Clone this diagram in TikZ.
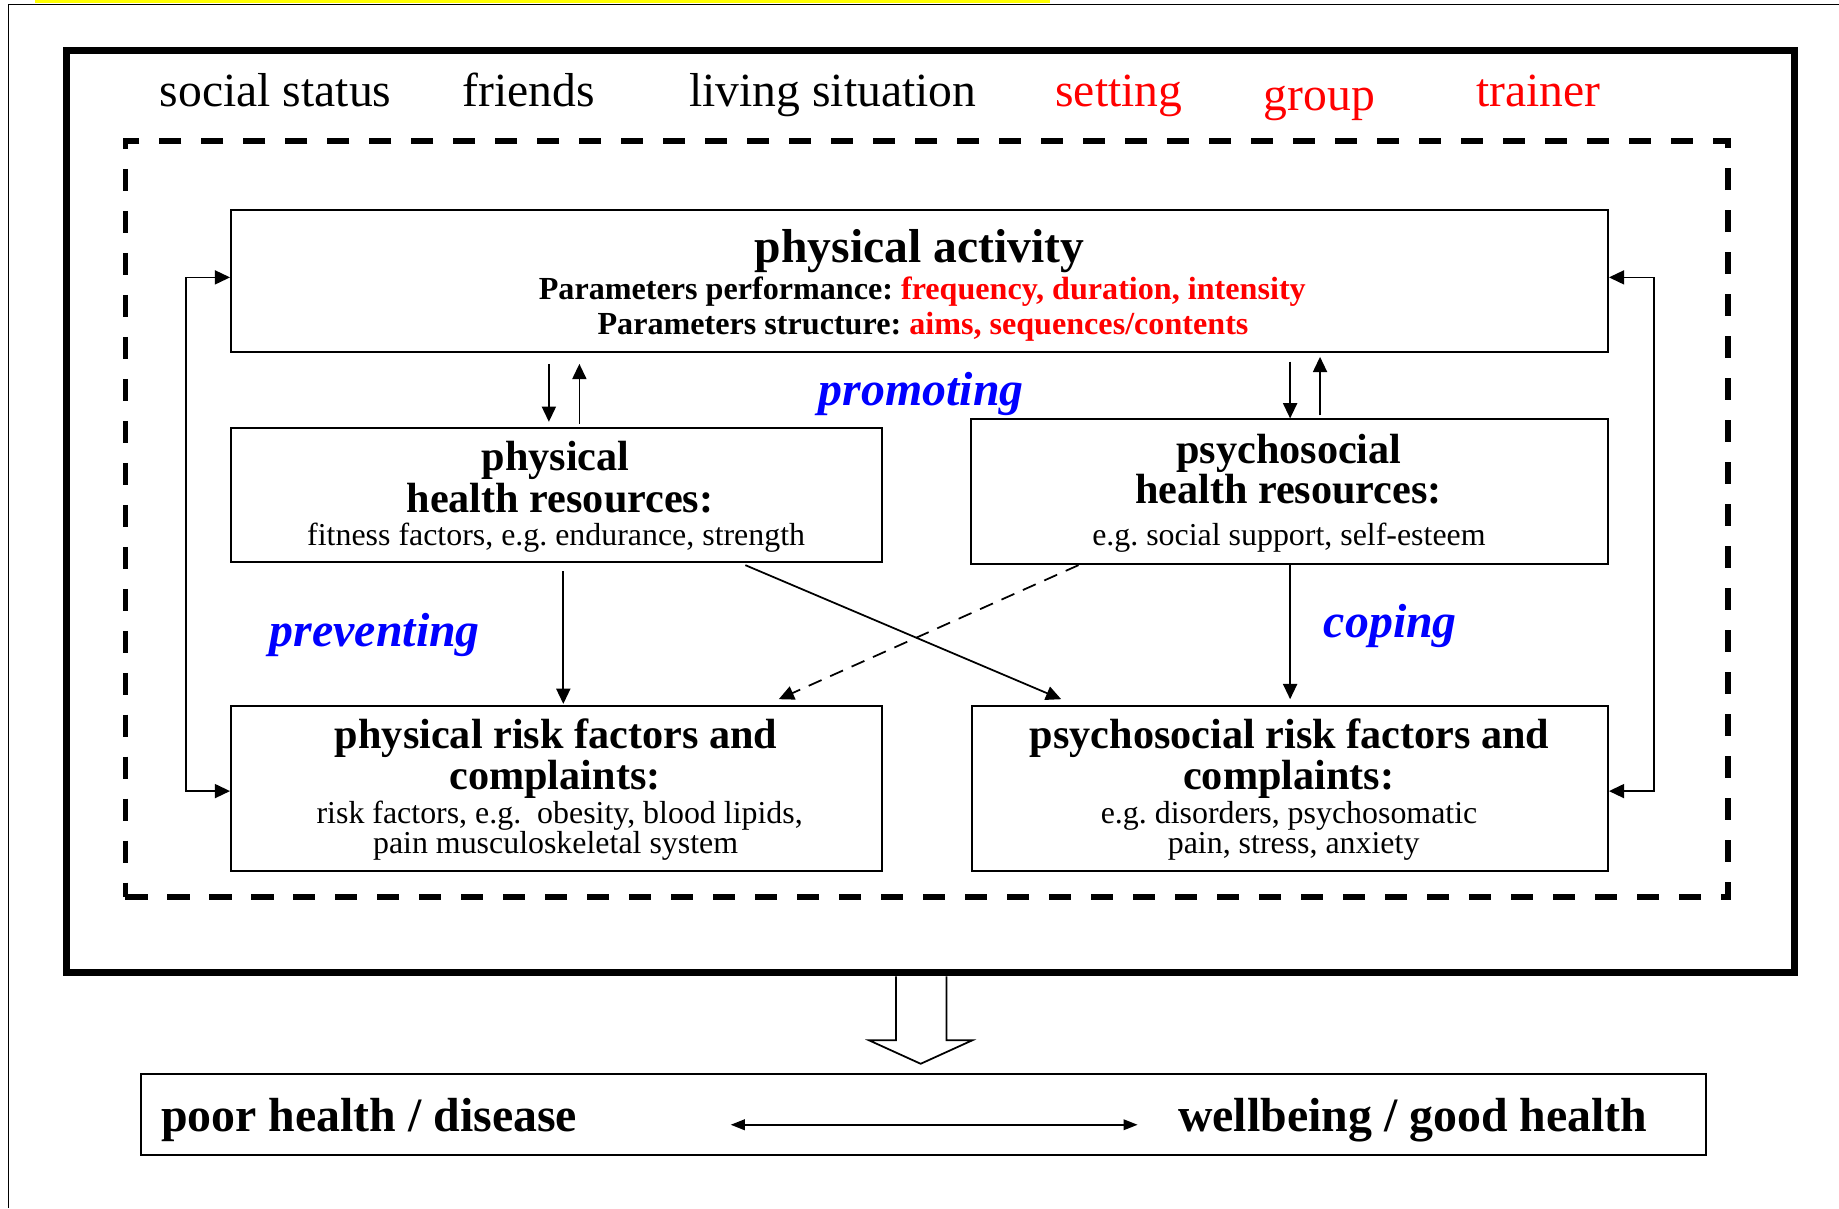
\documentclass[tikz,border=0pt]{standalone}
\usepackage{fontspec}
\setmainfont{Liberation Serif}
\usetikzlibrary{arrows.meta,calc}
\definecolor{myred}{RGB}{255,0,0}
\definecolor{myblue}{RGB}{0,0,255}
\definecolor{myyellow}{RGB}{255,255,0}
\frenchspacing
\begin{document}
\begin{tikzpicture}[x=0.5pt,y=-0.5pt,
  box/.style={draw,line width=0.85pt,inner sep=0pt},
  lbl/.style={anchor=base,inner sep=0pt,font=\fontsize{20.3}{24}\selectfont},
  ttl/.style={anchor=base,inner sep=0pt,font=\fontsize{18}{21}\selectfont\bfseries},
  sml/.style={anchor=base,inner sep=0pt,font=\fontsize{13.6}{16}\selectfont},
  parline/.style={anchor=base,inner sep=0pt,font=\fontsize{13.7}{16}\selectfont\bfseries},
  verbtxt/.style={anchor=base,inner sep=0pt,text=myblue,font=\fontsize{20.4}{24}\selectfont\bfseries\itshape},
  bigtxt/.style={inner sep=0pt,font=\fontsize{20.4}{24}\selectfont\bfseries},
  arr/.style={line width=0.75pt,-{Triangle[length=6.5pt,width=6pt]}},
  darr/.style={line width=0.75pt,{Triangle[length=6.5pt,width=6pt]}-{Triangle[length=6.5pt,width=6pt]}},
]
\useasboundingbox (0,0) rectangle (1568,1030);
% page edges
\fill[myyellow] (30,0) rectangle (895,2.5);
\draw[line width=0.6pt] (7,1030) -- (7,4) -- (1568,4);

% frames
\node[draw,line width=3pt,inner sep=0pt,minimum width=736.5pt,minimum height=393.25pt] (frame) at (793.5,436.25) {};
\node[draw,line width=2.5pt,dash pattern=on 9.4pt off 8.5pt,inner sep=0pt,minimum width=683pt,minimum height=322.5pt] (dframe) at (790,442.5) {};

% context labels
\node[lbl] (social) at (235,90.4) {social status};
\node[lbl] (friends) at (451,90.4) {friends};
\node[lbl] (living) at (710,90.4) {living situation};
\node[lbl,text=myred] (setting) at (954,90.4) {setting};
\node[lbl,text=myred] (group) at (1125,94) {group};
\node[lbl,text=myred] (trainer) at (1311.5,90.4) {trainer};

% boxes
\node[box,minimum width=587pt,minimum height=60.7pt] (pa) at (784,239.7) {};
\node[box,minimum width=277.5pt,minimum height=57.2pt] (pres) at (474.5,422.2) {};
\node[box,minimum width=271.5pt,minimum height=61.7pt] (sres) at (1099.5,419.3) {};
\node[box,minimum width=277.5pt,minimum height=70.5pt] (prisk) at (474.5,672.2) {};
\node[box,minimum width=271.25pt,minimum height=70.5pt] (srisk) at (1099.75,672.2) {};
\node[box,minimum width=667.5pt,minimum height=34.5pt] (outcome) at (787.5,950.5) {};

% physical activity text
\node[anchor=base,inner sep=0pt,font=\fontsize{20.3}{24}\selectfont\bfseries] (patitle) at (784,224) {physical activity};
\node[parline] (paperf) at (786.4,255) {Parameters performance: \textcolor{myred}{frequency, duration, intensity}};
\node[parline] (pastruct) at (787,284.8) {Parameters structure: \textcolor{myred}{aims, sequences/contents}};

% physical health resources text
\node[ttl] (prest1) at (473.7,401.5) {physical};
\node[ttl] (prest2) at (477.5,436.8) {health resources:};
\node[sml] (prest3) at (474.2,465) {fitness factors, e.g. endurance, strength};

% psychosocial health resources text
\node[ttl] (srest1) at (1099,395.2) {psychosocial};
\node[ttl] (srest2) at (1098.6,429.5) {health resources:};
\node[sml] (srest3) at (1099,465) {e.g. social support, self-esteem};

% physical risk text
\node[ttl] (prt1) at (474.1,638.5) {physical risk factors and};
\node[ttl] (prt2) at (473.2,673.5) {complaints:};
\node[sml] (prt3) at (477.2,702) {risk factors, e.g.\ \ obesity, blood lipids,};
\node[sml] (prt4) at (473.7,728) {pain musculoskeletal system};

% psychosocial risk text
\node[ttl] (srt1) at (1099.6,638.5) {psychosocial risk factors and};
\node[ttl] (srt2) at (1098.8,673.5) {complaints:};
\node[sml] (srt3) at (1099.1,702) {e.g. disorders, psychosomatic};
\node[sml] (srt4) at (1103,728) {pain, stress, anxiety};

% blue verbs
\node[verbtxt] (promoting) at (785.5,345.5) {promoting};
\node[verbtxt] (preventing) at (319.6,551.5) {preventing};
\node[verbtxt] (coping) at (1185.5,543.5) {coping};

% x positions for connectors
\coordinate (cA) at (468,0);
\coordinate (cB) at (494,0);
\coordinate (cC) at (1100,0);
\coordinate (cD) at (1125.5,0);
\coordinate (cE) at (480.3,0);
\coordinate (d1) at (635.5,0);
\coordinate (d2) at (904.8,0);
\coordinate (d3) at (919.6,0);
\coordinate (d4) at (664,0);
\coordinate (lx) at (158.3,450);
\coordinate (rx) at (1410,450);

% activity <-> resources
\draw[arr] ($(pa.south -| cA)+(0,9)$) -- ($(pres.north -| cA)+(0,-4.5)$);
\draw[arr] ($(pres.north -| cB)+(0,-3)$) -- ($(pa.south -| cB)+(0,9)$);
\draw[arr] ($(pa.south -| cC)+(0,7)$) -- (sres.north -| cC);
\draw[arr] ($(sres.north -| cD)+(0,-2.6)$) -- ($(pa.south -| cD)+(0,3)$);

% resources -> risks
\draw[arr] ($(pres.south -| cE)+(0,6.6)$) -- ($(prisk.north -| cE)+(0,-0.7)$);
\draw[arr] (sres.south -| cC) -- ($(srisk.north -| cC)+(0,-4.7)$);
\draw[arr] ($(pres.south -| d1)+(0,1.6)$) -- ($(srisk.north -| d2)+(0,-4.7)$);
\draw[arr,dash pattern=on 6pt off 4pt] (sres.south -| d3) -- ($(prisk.north -| d4)+(0,-4.7)$);

% feedback loops
\draw[darr] ($(pa.west)+(0,-3.2)$) -| (lx) |- ($(prisk.west)+(0,2.3)$);
\draw[darr] ($(pa.east)+(0,-3.2)$) -| (rx) |- ($(srisk.east)+(0,2.3)$);

% hollow arrow to outcome
\draw[line width=0.75pt] (764,832.5) -- (764,887) -- (741,887) -- (785,907) -- (829,887) -- (807,887) -- (807,832.5);

% outcome texts
\node[bigtxt,anchor=base west] (poor) at (137,965) {poor health / disease};
\node[bigtxt,anchor=base east] (well) at (1405,965) {wellbeing / good health};
\coordinate (aL) at (623,959);
\coordinate (aR) at (970,959);
\draw[line width=0.75pt,{Triangle[length=6pt,width=4.5pt]}-{Triangle[length=6pt,width=4.5pt]}] (aL) -- (aR);
\end{tikzpicture}
\end{document}
